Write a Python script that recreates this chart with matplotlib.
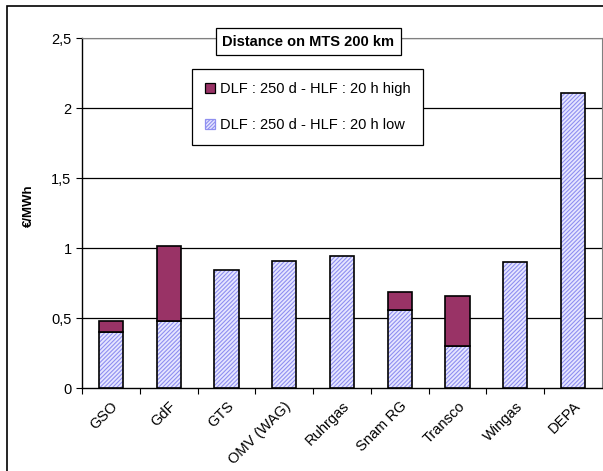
import matplotlib
matplotlib.use("Agg")
import matplotlib.pyplot as plt
from matplotlib.patches import Rectangle, Patch
import numpy as np

plt.rcParams['font.family'] = ['Liberation Sans', 'DejaVu Sans']
plt.rcParams['hatch.linewidth'] = 0.8

companies = ['GSO', 'GdF', 'GTS', 'OMV (WAG)', 'Ruhrgas', 'Snam RG', 'Transco', 'Wingas', 'DEPA']
low = [0.40, 0.48, 0.845, 0.91, 0.945, 0.555, 0.30, 0.90, 2.11]
high = [0.08, 0.535, 0.0, 0.0, 0.0, 0.13, 0.36, 0.0, 0.0]
yticks = [0, 0.5, 1, 1.5, 2, 2.5]
ytick_labels = ['0', '0,5', '1', '1,5', '2', '2,5']

W, H = 603, 471
fig = plt.figure(figsize=(W / 100, H / 100), dpi=100)

# outer frame (cropped at right/bottom like the original)
fig.patches.append(Rectangle((7 / W, -0.1), 1.2, 1 - 6 / H + 0.1, transform=fig.transFigure,
                             fill=False, edgecolor='black', linewidth=1.2))

ax = fig.add_axes([82 / W, 1 - 388 / H, (602 - 82) / W, (388 - 38) / H])
x = np.arange(len(companies))
bw = 0.42

low_col = '#e6e6ff'
hatch_col = '#8f8ff0'
high_col = '#993366'

ax.bar(x, low, bw, color=low_col, edgecolor=hatch_col, hatch='////////', linewidth=0, zorder=3)
ax.bar(x, low, bw, fill=False, edgecolor='black', linewidth=1.2, zorder=4)
hi_idx = [i for i, h in enumerate(high) if h > 0]
ax.bar([x[i] for i in hi_idx], [high[i] for i in hi_idx], bw,
       bottom=[low[i] for i in hi_idx], color=high_col, edgecolor='black', linewidth=1.2, zorder=4)

ax.set_ylim(0, 2.5)
ax.set_xlim(-0.5, len(companies) - 0.5)
ax.set_yticks(yticks)
ax.set_yticklabels(ytick_labels, fontsize=10.5)
for yv in yticks[1:]:
    ax.axhline(yv, color='black', linewidth=0.9, zorder=1)

ax.set_xticks(np.arange(-0.5, len(companies) - 0.5, 1))
ax.set_xticklabels([])
ax.set_xticks(x, minor=True)
ax.set_xticklabels(companies, minor=True, rotation=45, ha='right', rotation_mode='anchor', fontsize=10.5)
ax.tick_params(axis='x', which='minor', length=0, pad=8)
ax.tick_params(axis='x', which='major', direction='out', length=4, color='black')
ax.tick_params(axis='y', direction='out', length=4)

ax.spines['left'].set_linewidth(1.0)
ax.spines['bottom'].set_linewidth(1.0)
ax.spines['top'].set_color('#808080')
ax.spines['right'].set_color('#808080')

ax.set_ylabel('€/MWh', fontsize=9.5, fontweight='bold')
ax.yaxis.set_label_coords(-0.09, 0.52)

fig.text(308.5 / W, 1 - 41.5 / H, 'Distance on MTS 200 km', ha='center', va='center',
         fontsize=10.5, fontweight='bold',
         bbox=dict(boxstyle='square,pad=0.45', facecolor='white', edgecolor='black', linewidth=0.9))

handles = [Patch(facecolor=high_col, edgecolor='black', linewidth=0.9),
           Patch(facecolor=low_col, edgecolor=hatch_col, hatch='/////////', linewidth=0.9)]
leg = fig.legend(handles, ['DLF : 250 d - HLF : 20 h high', 'DLF : 250 d - HLF : 20 h low'],
                 loc='upper left', bbox_to_anchor=(192 / W, 1 - 69 / H), fontsize=10.5,
                 frameon=True, fancybox=False, edgecolor='black', framealpha=1,
                 handlelength=0.7, handleheight=0.7, handletextpad=0.3, labelspacing=1.5,
                 borderpad=0.9, borderaxespad=0)
leg.get_frame().set_linewidth(0.9)

fig.savefig('out.png', dpi=100)
